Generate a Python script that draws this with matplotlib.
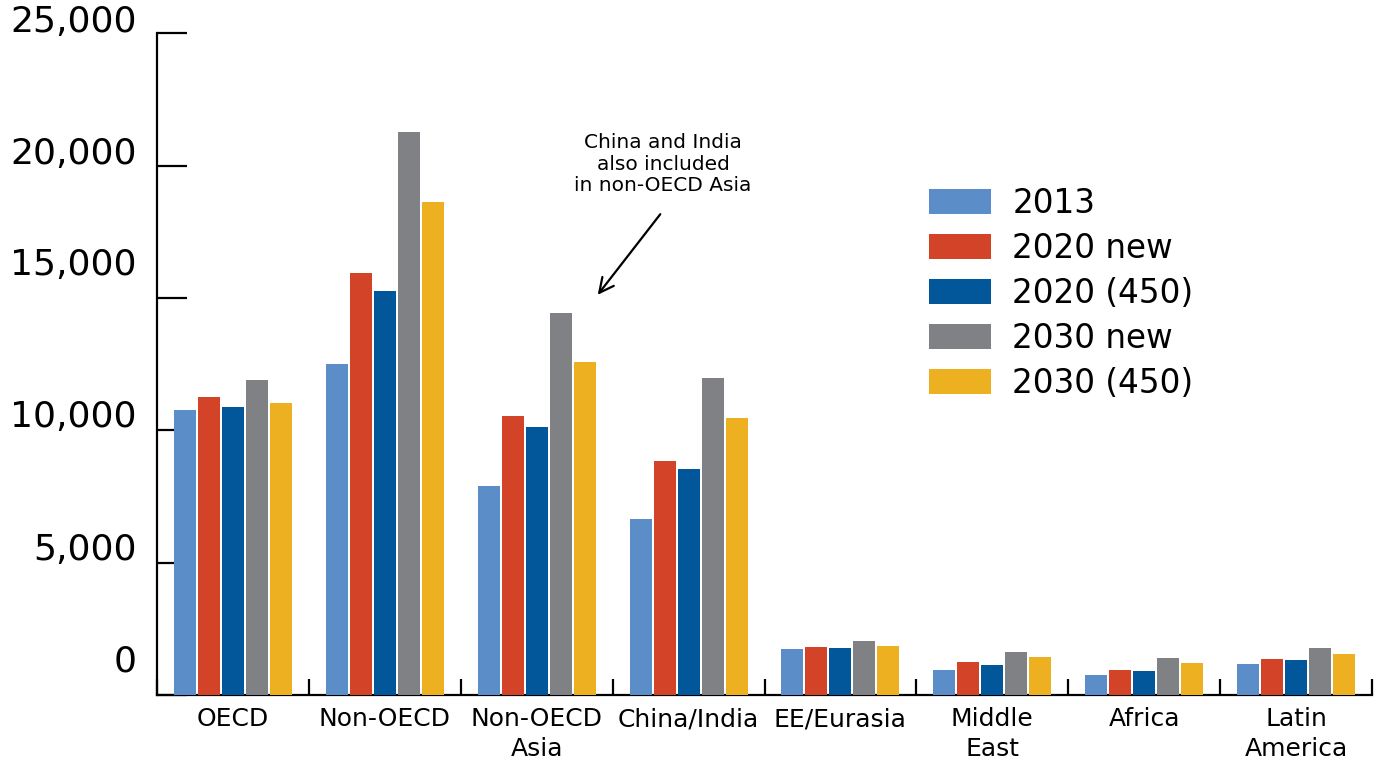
import matplotlib
matplotlib.use("Agg")
import matplotlib.pyplot as plt
import numpy as np

categories = ["OECD", "Non-OECD", "Non-OECD\nAsia", "China/India", "EE/Eurasia",
              "Middle\nEast", "Africa", "Latin\nAmerica"]
series_names = ["2013", "2020 new", "2020 (450)", "2030 new", "2030 (450)"]
v2013 = [10760, 12500, 7890, 6650, 1740, 940, 760, 1170]
v2020_new = [11250, 15940, 10540, 8840, 1810, 1250, 940, 1360]
v2020_450 = [10880, 15260, 10120, 8540, 1780, 1130, 900, 1320]
v2030_new = [11900, 21260, 14430, 11970, 2040, 1620, 1400, 1780]
v2030_450 = [11030, 18620, 12580, 10460, 1850, 1440, 1210, 1550]
series_values = [v2013, v2020_new, v2020_450, v2030_new, v2030_450]
colors = ["#5B8DC9", "#D24328", "#02579A", "#808184", "#ECB021"]
yticks = [0, 5000, 10000, 15000, 20000, 25000]
ytick_labels = ["0", "5,000", "10,000", "15,000", "20,000", "25,000"]
ylabel_offsets = [32, 11, 12, 31, 10, 10]  # pixels upward

plt.rcParams['font.family'] = ['DejaVu Sans']
fig = plt.figure(figsize=(13.75, 7.59), dpi=100)
ax = fig.add_axes([157/1375, 1-695/759, (1372-157)/1375, (695-33.3)/759])

x = np.arange(len(categories))
pitch = 24/152
width = 22/152
for i, (name, vals, c) in enumerate(zip(series_names, series_values, colors)):
    ax.bar(x + (i-2)*pitch, vals, width=width, color=c, label=name, zorder=3)

ax.set_xlim(-0.5, len(categories)-0.5)
ax.set_ylim(0, 25000)
for s in ["top", "right"]:
    ax.spines[s].set_visible(False)
for s in ["left", "bottom"]:
    ax.spines[s].set_linewidth(1.6)
    ax.spines[s].set_color("black")

# y ticks
ax.set_yticks(yticks)
ax.set_yticklabels([])
ax.tick_params(axis="y", direction="in", length=21.6, width=1.6, color="black")
for yv, lab, off in zip(yticks, ytick_labels, ylabel_offsets):
    ax.annotate(lab, xy=(0, yv), xycoords=("axes fraction", "data"),
                xytext=(-14.4, (off+1.5)*0.72), textcoords="offset points",
                ha="right", va="center", fontsize=26, color="black")

# x ticks at group boundaries
ax.set_xticks(np.arange(len(categories)+1) - 0.5)
ax.set_xticklabels([])
ax.tick_params(axis="x", direction="in", length=11.5, width=1.6, color="black")
ax.set_xticks(x, minor=True)
ax.set_xticklabels(categories, minor=True, fontsize=18, linespacing=1.3)
ax.tick_params(axis="x", which="minor", length=0, pad=9)

leg = ax.legend(loc="upper left", bbox_to_anchor=((929-157)/1215, 1-(187-33.3)/661.7),
                frameon=False, fontsize=23.5, handlelength=1.9, handleheight=0.8,
                labelspacing=0.37, handletextpad=0.65, borderaxespad=0, borderpad=0)

ax.annotate("", xy=(596, 759-297), xycoords="figure pixels",
            xytext=(662, 759-212), textcoords="figure pixels",
            arrowprops=dict(arrowstyle="->", lw=1.6, color="black", mutation_scale=26))
ax.text(663, 759-164, "China and India\nalso included\nin non-OECD Asia",
        transform=None, ha="center", va="center", fontsize=14.5, linespacing=1.15)

fig.savefig("out.png", dpi=100)
